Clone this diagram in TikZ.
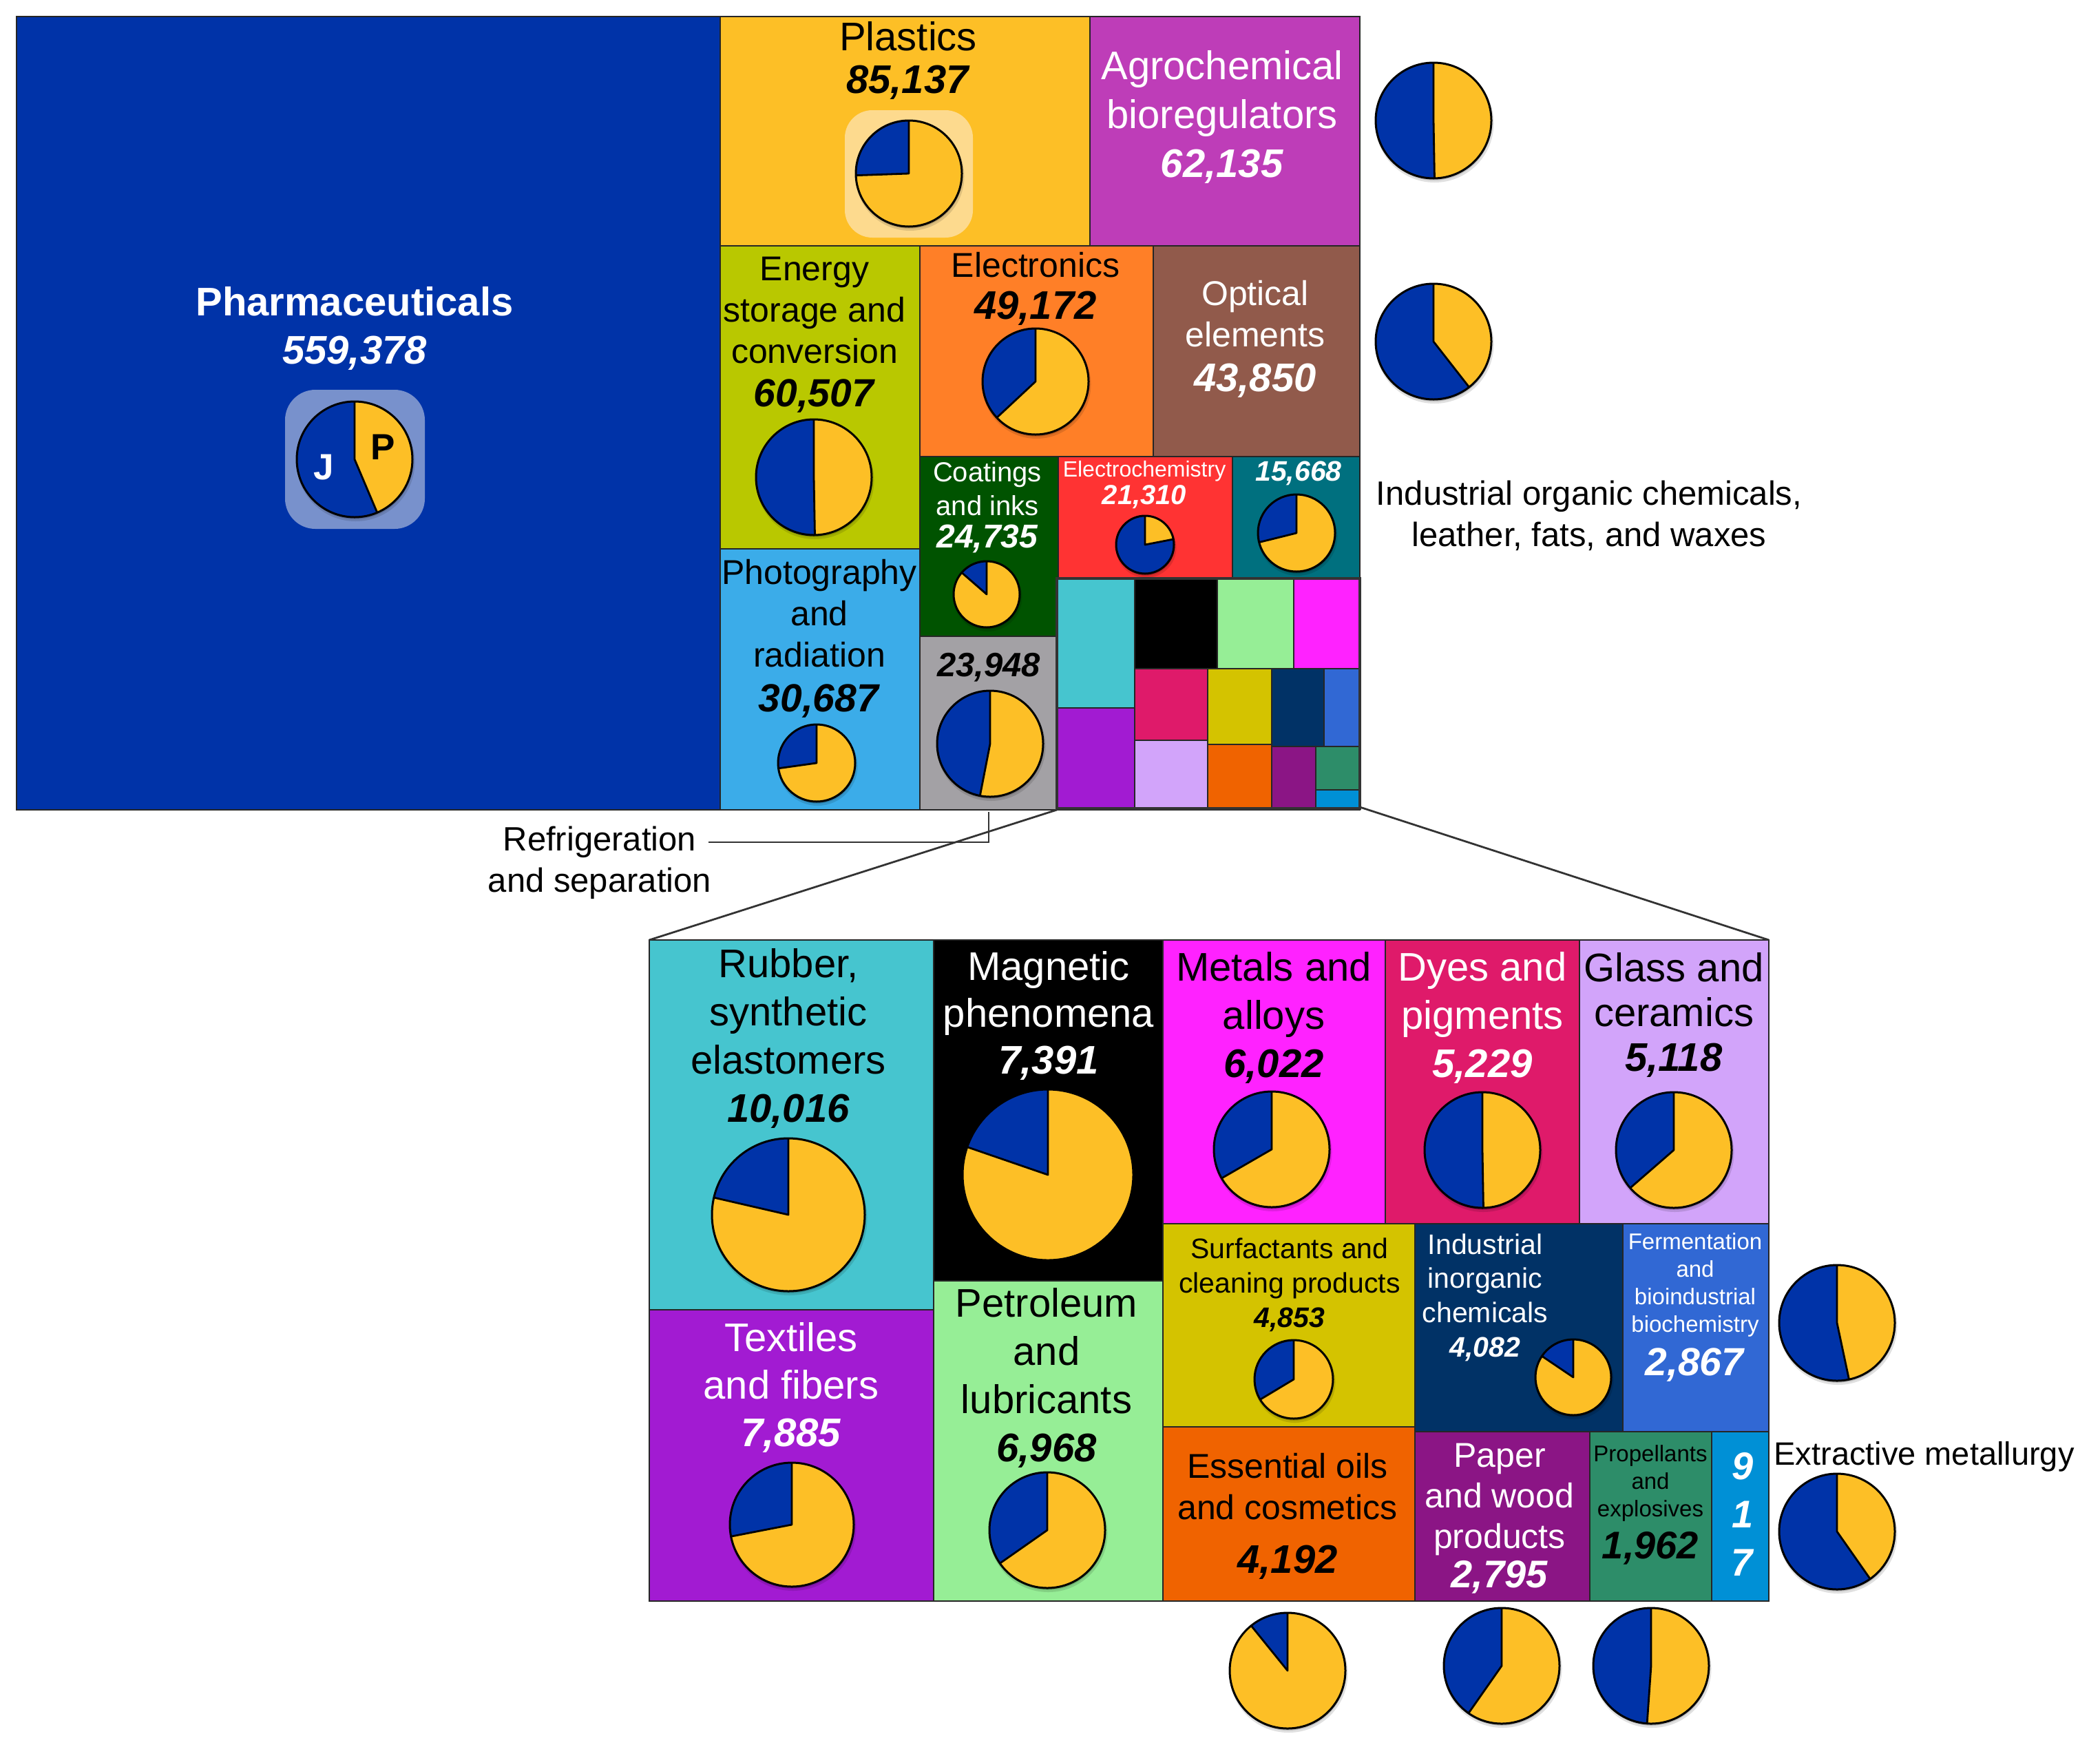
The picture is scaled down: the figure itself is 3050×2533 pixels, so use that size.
\documentclass[tikz,border=0pt]{standalone}
\usepackage{fontspec}
\setmainfont{Liberation Sans}
\usepackage{tikz}

\definecolor{pieblue}{RGB}{0,51,168}
\definecolor{pieyellow}{RGB}{253,191,38}
\definecolor{pharmabg}{RGB}{120,145,204}
\definecolor{plasticbg}{RGB}{253,218,142}
\definecolor{agro}{RGB}{190,61,184}
\definecolor{energy}{RGB}{185,200,0}
\definecolor{electro}{RGB}{255,127,39}
\definecolor{optical}{RGB}{145,90,75}
\definecolor{coating}{RGB}{0,83,0}
\definecolor{echem}{RGB}{255,51,51}
\definecolor{organic}{RGB}{0,112,127}
\definecolor{photo}{RGB}{59,172,233}
\definecolor{refrig}{RGB}{163,161,165}
\definecolor{rubber}{RGB}{70,197,207}
\definecolor{petrol}{RGB}{150,238,150}
\definecolor{metal}{RGB}{255,34,255}
\definecolor{dyes}{RGB}{223,26,106}
\definecolor{glass}{RGB}{210,164,250}
\definecolor{textile}{RGB}{162,27,210}
\definecolor{surfact}{RGB}{212,195,0}
\definecolor{inorg}{RGB}{1,50,102}
\definecolor{ferment}{RGB}{49,104,212}
\definecolor{essoil}{RGB}{240,99,0}
\definecolor{paper}{RGB}{139,21,133}
\definecolor{propel}{RGB}{45,141,105}
\definecolor{extract}{RGB}{0,144,214}

\newcommand{\fsz}[2]{\fontsize{#1}{#2}\selectfont}
\newcommand{\numval}[1]{\textbf{\textit{#1}}}
% pie: centre x, centre y, radius, end angle of the blue share
\newcommand{\piechart}[4]{%
  \begin{scope}[shift={(#1,#2)},yscale=-1]
    \fill[black,opacity=0.12] (1.5,-4) circle[radius=#3+2];
    \fill[black,opacity=0.15] (1,-3) circle[radius=#3];
    \fill[pieyellow] (0,0) circle[radius=#3];
    \fill[pieblue] (0,0) -- (90:#3) arc[start angle=90,end angle=#4,radius=#3] -- cycle;
    \draw[line width=1.4pt,line join=round] (90:#3) -- (0,0) -- (#4:#3);
    \draw[line width=1.5pt] (0,0) circle[radius=#3];
  \end{scope}}

\begin{document}
\begin{tikzpicture}[x=0.5pt,y=0.5pt,yscale=-1,xscale=1,
  tile/.style={draw=black!85,line width=0.9pt},
  lbl/.style={anchor=base,align=center,inner sep=0pt},
  zoomline/.style={draw=black!80,line width=1.4pt}]
\useasboundingbox (0,0) rectangle (3050,2533);

%Shape: Rectangle [main treemap]
\draw[tile,fill=pieblue] (24,24) rectangle (1046,1176);
\draw[tile,fill=pieyellow] (1046,24) rectangle (1583,357);
\draw[tile,fill=agro] (1583,24) rectangle (1975,357);
\draw[tile,fill=energy] (1046,357) rectangle (1336,797);
\draw[tile,fill=electro] (1336,357) rectangle (1675,663);
\draw[tile,fill=optical] (1675,357) rectangle (1975,663);
\draw[tile,fill=coating] (1336,663) rectangle (1537,924);
\draw[tile,fill=echem] (1537,663) rectangle (1790,840);
\draw[tile,fill=organic] (1790,663) rectangle (1975,840);
\draw[tile,fill=photo] (1046,797) rectangle (1336,1176);
\draw[tile,fill=refrig] (1336,924) rectangle (1535,1176);

%Shape: Rectangle [small block]
\draw[tile,fill=rubber] (1535,840) rectangle (1648,1028);
\draw[tile,fill=textile] (1535,1028) rectangle (1648,1176);
\draw[tile,fill=black] (1648,840) rectangle (1768,971);
\draw[tile,fill=petrol] (1768,840) rectangle (1879,971);
\draw[tile,fill=metal] (1879,840) rectangle (1975,971);
\draw[tile,fill=dyes] (1648,971) rectangle (1754,1075);
\draw[tile,fill=glass] (1648,1075) rectangle (1754,1176);
\draw[tile,fill=surfact] (1754,971) rectangle (1847,1081);
\draw[tile,fill=essoil] (1754,1081) rectangle (1847,1176);
\draw[tile,fill=inorg] (1847,971) rectangle (1923,1084);
\draw[tile,fill=ferment] (1923,971) rectangle (1975,1084);
\draw[tile,fill=paper] (1847,1084) rectangle (1911,1176);
\draw[tile,fill=propel] (1911,1084) rectangle (1975,1147);
\draw[tile,fill=extract] (1911,1147) rectangle (1975,1176);
\draw[draw=black!80,line width=2pt] (1535,840) rectangle (1975,1174);

%Shape: Rectangle [zoomed block]
\draw[tile,fill=rubber] (943,1365) rectangle (1356,1902);
\draw[tile,fill=black] (1356,1365) rectangle (1689,1860);
\draw[tile,fill=metal] (1689,1365) rectangle (2012,1777);
\draw[tile,fill=dyes] (2012,1365) rectangle (2294,1777);
\draw[tile,fill=glass] (2294,1365) rectangle (2569,1777);
\draw[tile,fill=textile] (943,1902) rectangle (1356,2325);
\draw[tile,fill=petrol] (1356,1860) rectangle (1689,2325);
\draw[tile,fill=surfact] (1689,1777) rectangle (2055,2072);
\draw[tile,fill=inorg] (2055,1777) rectangle (2357,2079);
\draw[tile,fill=ferment] (2357,1777) rectangle (2569,2079);
\draw[tile,fill=essoil] (1689,2072) rectangle (2055,2325);
\draw[tile,fill=paper] (2055,2079) rectangle (2309,2325);
\draw[tile,fill=propel] (2309,2079) rectangle (2486,2325);
\draw[tile,fill=extract] (2486,2079) rectangle (2569,2325);

%Shape: Rounded Rect
\fill[pharmabg,rounded corners=22pt] (414,566) rectangle (617,768);
\fill[plasticbg,rounded corners=20pt] (1227,160) rectangle (1413,345);

% Pies
\piechart{515}{667}{84}{293}
\piechart{1320}{252}{77}{182}
\piechart{2082}{175}{84}{271}
\piechart{1182}{693}{84}{271}
\piechart{1504}{554}{77}{223}
\piechart{2082}{496}{84}{308}
\piechart{1433}{863}{48}{139}
\piechart{1663}{791}{42}{371}
\piechart{1883}{774}{56}{194}
\piechart{1186}{1108}{56}{188}
\piechart{1438}{1080}{77}{259}
\piechart{1145}{1764}{111}{167}
\piechart{1522}{1706}{124}{161}
\piechart{1847}{1669}{84}{210}
\piechart{2153}{1670}{84}{271}
\piechart{2431}{1670}{84}{221}
\piechart{1150}{2214}{90}{191}
\piechart{1521}{2222}{84}{215}
\piechart{1879}{2003}{57}{211}
\piechart{2285}{2000}{55}{146}
\piechart{2668}{1921}{84}{282}
\piechart{2668}{2224}{84}{305}
\piechart{1870}{2426}{84}{129}
\piechart{2181}{2419}{84}{235}
\piechart{2398}{2419}{84}{266}

% Text Node (base = last line)
\node[lbl,text=white,font=\fsz{29}{35}] (pharma) at (515,528) {\textbf{Pharmaceuticals}\\\numval{559,378}};
\node[text=white,font=\fsz{26.5}{30}\bfseries] (pharmaJ) at (470,679) {J};
\node[text=black,font=\fsz{26.5}{30}\bfseries] (pharmaP) at (556,649) {P};
\node[lbl,font=\fsz{29}{31}] (plastics) at (1319,135) {Plastics\\\numval{85,137}};
\node[lbl,text=white,font=\fsz{29}{35.5}] (agrochem) at (1775,257) {Agrochemical\\bioregulators\\\numval{62,135}};
\node[lbl,font=\fsz{25}{30}] (energystore) at (1183,527) {Energy\\storage and\\conversion};
\node[lbl,font=\fsz{28.5}{30}] (energyval) at (1183,590) {\numval{60,507}};
\node[lbl,font=\fsz{25}{30}] (electronics) at (1504,402) {Electronics};
\node[lbl,font=\fsz{29}{30}] (electroval) at (1504,463) {\numval{49,172}};
\node[lbl,text=white,font=\fsz{25}{30}] (opticalel) at (1823,503) {Optical\\elements};
\node[lbl,text=white,font=\fsz{29}{30}] (opticalval) at (1823,568) {\numval{43,850}};
\node[lbl,text=white,font=\fsz{20}{24.5}] (coatings) at (1434,748) {Coatings\\and inks};
\node[lbl,text=white,font=\fsz{24}{26}] (coatingval) at (1434,795) {\numval{24,735}};
\node[lbl,text=white,font=\fsz{16}{20}] (echemlabel) at (1662,692) {Electrochemistry};
\node[lbl,text=white,font=\fsz{20}{22}] (echemval) at (1662,732) {\numval{21,310}};
\node[lbl,text=white,font=\fsz{20.5}{22}] (organicval) at (1886,698) {\numval{15,668}};
\node[lbl,font=\fsz{25}{30}] (photography) at (1190,968) {Photography\\and\\radiation};
\node[lbl,font=\fsz{28.5}{30}] (photoval) at (1190,1033) {\numval{30,687}};
\node[lbl,font=\fsz{24.5}{26}] (refrigval) at (1436,982) {\numval{23,948}};
\node[lbl,font=\fsz{24.5}{30}] (refriglabel) at (871,1295) {Refrigeration\\and separation};
\node[lbl,font=\fsz{24.5}{30}] (organiclabel) at (2308,793) {Industrial organic chemicals,\\leather, fats, and waxes};

% Text Node
\node[lbl,font=\fsz{29}{35}] (rubberlbl) at (1145,1629) {Rubber,\\synthetic\\elastomers\\\numval{10,016}};
\node[lbl,text=white,font=\fsz{29}{34}] (magnetic) at (1523,1559) {Magnetic\\phenomena\\\numval{7,391}};
\node[lbl,font=\fsz{29}{35}] (metals) at (1850,1564) {Metals and\\alloys\\\numval{6,022}};
\node[lbl,text=white,font=\fsz{29}{35}] (dyeslbl) at (2153,1564) {Dyes and\\pigments\\\numval{5,229}};
\node[lbl,font=\fsz{29}{32.5}] (glasslbl) at (2431,1555) {Glass and\\ceramics\\\numval{5,118}};
\node[lbl,text=white,font=\fsz{29}{34.5}] (textiles) at (1149,2100) {Textiles\\and fibers\\\numval{7,885}};
\node[lbl,font=\fsz{29}{35}] (petroleum) at (1520,2122) {Petroleum\\and\\lubricants\\\numval{6,968}};
\node[lbl,font=\fsz{20.5}{25}] (surfactants) at (1873,1927) {Surfactants and\\cleaning products\\\numval{4,853}};
\node[lbl,text=white,font=\fsz{20.5}{24.8}] (inorganic) at (2157,1970) {Industrial\\inorganic\\chemicals\\\numval{4,082}};
\node[lbl,text=white,font=\fsz{16.5}{20}] (fermentlbl) at (2462,1934) {Fermentation\\and\\bioindustrial\\biochemistry};
\node[lbl,text=white,font=\fsz{28.5}{30}] (fermentval) at (2462,1997) {\numval{2,867}};
\node[lbl,font=\fsz{25}{30}] (essoillbl) at (1870,2206) {Essential oils\\and cosmetics};
\node[lbl,font=\fsz{29}{30}] (essoilval) at (1870,2284) {\numval{4,192}};
\node[lbl,text=white,font=\fsz{25}{29.5}] (paperlbl) at (2178,2248) {Paper\\and wood\\products};
\node[lbl,text=white,font=\fsz{28}{30}] (paperval) at (2178,2305) {\numval{2,795}};
\node[lbl,font=\fsz{16.5}{20}] (propellbl) at (2397,2202) {Propellants\\and\\explosives};
\node[lbl,font=\fsz{28}{30}] (propelval) at (2397,2263) {\numval{1,962}};
\node[lbl,text=white,font=\fsz{28}{35}] (extractval) at (2531,2288) {\numval{9}\\\numval{1}\\\numval{7}};
\node[anchor=base west,inner sep=0pt,font=\fsz{23.5}{28}] (extractlbl) at (2576,2127) {Extractive metallurgy};

% Connectors
\coordinate (reftail) at (1029,1223);
\coordinate (refstub) at (1436,1179);
\coordinate (zoomsw) at (1535,1176);
\coordinate (zoomse) at (1975,1172);
\coordinate (insetnw) at (943,1365);
\coordinate (insetne) at (2569,1365);
\draw[zoomline] (reftail) -| (refstub);
\draw[zoomline] (zoomsw) -- (insetnw);
\draw[zoomline] (zoomse) -- (insetne);

\end{tikzpicture}
\end{document}
